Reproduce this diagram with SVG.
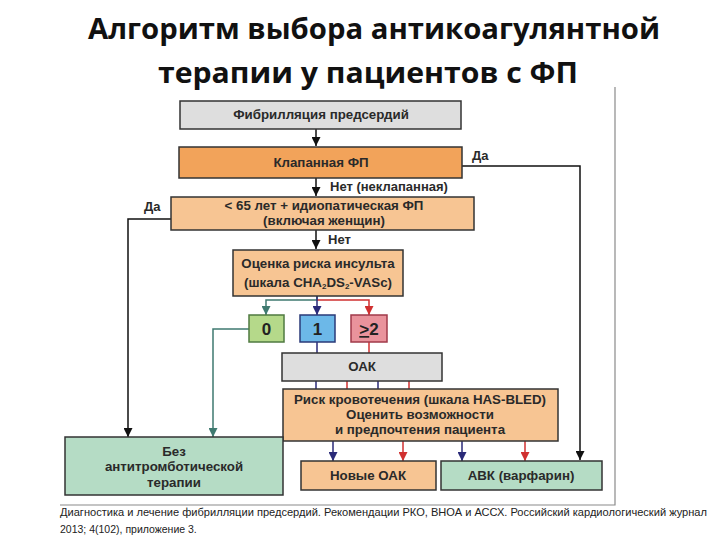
<svg xmlns="http://www.w3.org/2000/svg" width="720" height="540" viewBox="0 0 720 540">
<style>
.title{font-family:"Open Sans","Liberation Sans",sans-serif;font-weight:bold;font-size:29px;fill:#111;text-anchor:middle}
.t{font-family:"Liberation Sans",Arial,sans-serif;font-weight:bold;font-size:13.3px;fill:#2a2a2a;text-anchor:middle}
.lbl{font-family:"Liberation Sans",Arial,sans-serif;font-weight:bold;font-size:13px;fill:#2a2a2a}
.big{font-family:"Liberation Sans",Arial,sans-serif;font-weight:bold;font-size:17px;fill:#222;text-anchor:middle}
.box{stroke:#333;stroke-width:1.5}
.gray{fill:#dedede}
.orange{fill:#f2a35a}
.lorange{fill:#f7c593}
.green{fill:#b5d98a;stroke:#4f7a40}
.blue{fill:#6cb8e8;stroke:#2a3a78}
.pink{fill:#e9939c;stroke:#a03a4a}
.mint{fill:#b5dcc5}
.cap{font-family:"Liberation Sans",Arial,sans-serif;font-size:10.5px;fill:#222}
.c{fill:none;stroke-width:1.5}
.k{stroke:#111}
.tl{stroke:#3f7a70}
.nv{stroke:#2a2a78}
.rd{stroke:#d03030}
</style>
<defs>
<marker id="mk" markerWidth="9" markerHeight="9" refX="9" refY="4.5" orient="auto" markerUnits="userSpaceOnUse"><path d="M0,0 L9,4.5 L0,9 Z" fill="#111"/></marker>
<marker id="mt" markerWidth="9" markerHeight="9" refX="9" refY="4.5" orient="auto" markerUnits="userSpaceOnUse"><path d="M0,0 L9,4.5 L0,9 Z" fill="#3f7a70"/></marker>
<marker id="mn" markerWidth="9" markerHeight="9" refX="9" refY="4.5" orient="auto" markerUnits="userSpaceOnUse"><path d="M0,0 L9,4.5 L0,9 Z" fill="#2a2a78"/></marker>
<marker id="mr" markerWidth="9" markerHeight="9" refX="9" refY="4.5" orient="auto" markerUnits="userSpaceOnUse"><path d="M0,0 L9,4.5 L0,9 Z" fill="#d03030"/></marker>
</defs>
<rect width="720" height="540" fill="#fff"/>
<text class="title" x="374" y="39" textLength="572" lengthAdjust="spacingAndGlyphs">Алгоритм выбора антикоагулянтной</text>
<text class="title" x="368" y="83" textLength="420" lengthAdjust="spacingAndGlyphs">терапии у пациентов с ФП</text>
<g id="frame" stroke="#8a8a8a" stroke-width="1.2" fill="none">
<path d="M615,87 V505 H60"/>
</g>
<g id="connectors">
<path class="c k" d="M316,129 V146" marker-end="url(#mk)"/>
<path class="c k" d="M316,178 V196" marker-end="url(#mk)"/>
<path class="c k" d="M316,230 V249" marker-end="url(#mk)"/>
<path class="c k" d="M462,166 H580 V460" marker-end="url(#mk)"/>
<path class="c k" d="M171,219 H128 V437" marker-end="url(#mk)"/>
<path class="c tl" d="M317,296 V300 H266 V315" marker-end="url(#mt)"/>
<path class="c rd" d="M317,300 H369 V315" marker-end="url(#mr)"/>
<path class="c nv" d="M317,296 V315" marker-end="url(#mn)"/>
<path class="c tl" d="M249,329 H213 V437" marker-end="url(#mt)"/>
<path class="c nv" d="M317,342 V353"/>
<path class="c rd" d="M369,342 V353"/>
<path class="c nv" d="M316,381 V389"/>
<path class="c rd" d="M347,381 V389"/>
<path class="c nv" d="M378,381 V389"/>
<path class="c rd" d="M409,381 V389"/>
<path class="c nv" d="M333,441 V461" marker-end="url(#mn)"/>
<path class="c rd" d="M403,441 V461" marker-end="url(#mr)"/>
<path class="c nv" d="M462,441 V461" marker-end="url(#mn)"/>
<path class="c rd" d="M525,441 V461" marker-end="url(#mr)"/>
<text class="lbl" x="472" y="160">Да</text>
<text class="lbl" x="330" y="191">Нет (неклапанная)</text>
<text class="lbl" x="144" y="211">Да</text>
<text class="lbl" x="328" y="244">Нет</text>
</g>
<g id="af">
<rect class="box gray" x="180" y="101" width="281" height="28"/>
<text class="t" x="321" y="119">Фибрилляция предсердий</text>
</g>
<g id="valvular">
<rect class="box orange" x="179" y="147" width="283" height="31"/>
<text class="t" x="321" y="167">Клапанная ФП</text>
</g>
<g id="age">
<rect class="box lorange" x="171" y="197" width="303" height="33"/>
<text class="t" x="324" y="210">&lt; 65 лет + идиопатическая ФП</text>
<text class="t" x="324" y="225">(включая женщин)</text>
</g>
<g id="stroke">
<rect class="box lorange" x="233" y="250" width="170" height="46"/>
<text class="t" x="318" y="268">Оценка риска инсульта</text>
<text class="t" x="318" y="287">(шкала CHA<tspan font-size="8" dy="2">2</tspan><tspan dy="-2">DS</tspan><tspan font-size="8" dy="2">2</tspan><tspan dy="-2">-VASc)</tspan></text>
</g>
<g id="score0">
<rect class="box green" x="249" y="315" width="35" height="27"/>
<text class="big" x="266.5" y="335">0</text>
</g>
<g id="score1">
<rect class="box blue" x="300" y="315" width="35" height="27"/>
<text class="big" x="317.5" y="335">1</text>
</g>
<g id="score2">
<rect class="box pink" x="351" y="315" width="36" height="27"/>
<text class="big" x="369" y="335"><tspan text-decoration="underline">&gt;</tspan>2</text>
</g>
<g id="oac">
<rect class="box gray" x="282" y="353" width="160" height="28"/>
<text class="t" x="362" y="371">ОАК</text>
</g>
<g id="bleeding">
<rect class="box lorange" x="283" y="389" width="275" height="52"/>
<text class="t" x="420" y="404">Риск кровотечения (шкала HAS-BLED)</text>
<text class="t" x="420" y="419">Оценить возможности</text>
<text class="t" x="420" y="434">и предпочтения пациента</text>
</g>
<g id="none">
<rect class="box mint" x="65" y="437" width="218" height="58"/>
<text class="t" x="174" y="456">Без</text>
<text class="t" x="174" y="471">антитромботической</text>
<text class="t" x="174" y="487">терапии</text>
</g>
<g id="noac">
<rect class="box lorange" x="301" y="461" width="135" height="29"/>
<text class="t" x="368" y="480">Новые ОАК</text>
</g>
<g id="vka">
<rect class="box mint" x="441" y="461" width="161" height="29"/>
<text class="t" x="521" y="480">АВК (варфарин)</text>
</g>
<text class="cap" x="60" y="516" textLength="647" lengthAdjust="spacingAndGlyphs">Диагностика и лечение фибрилляции предсердий. Рекомендации РКО, ВНОА и АССХ. Российский кардиологический журнал</text>
<text class="cap" x="60" y="533">2013; 4(102), приложение 3.</text>
</svg>
